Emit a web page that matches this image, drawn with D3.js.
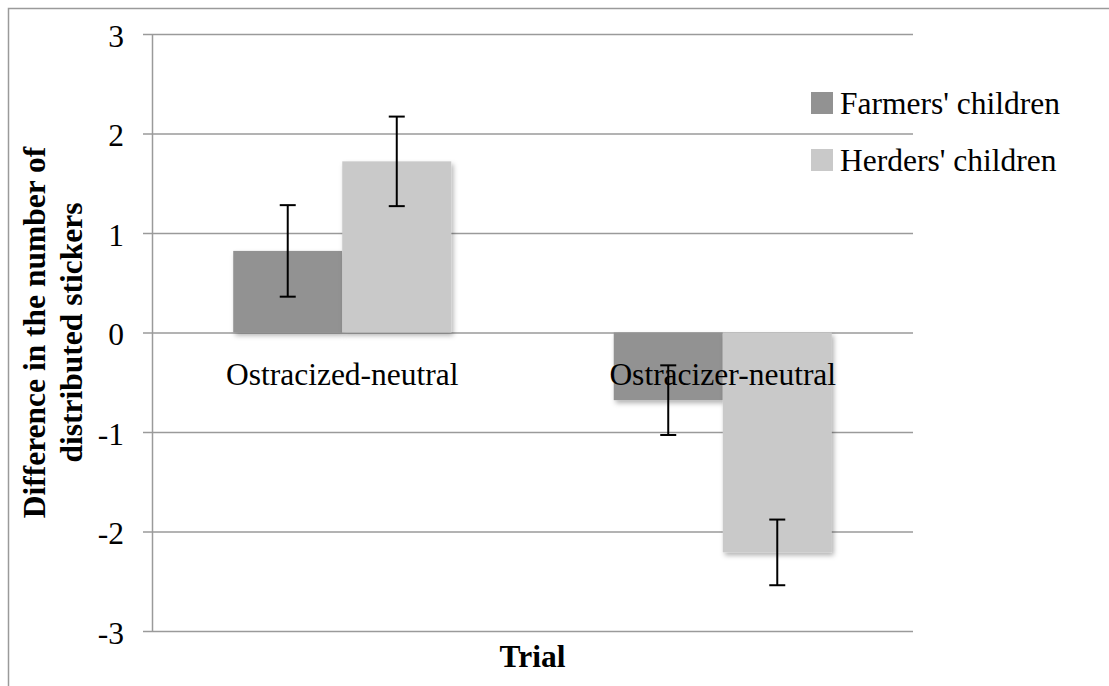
<!DOCTYPE html>
<html>
<head>
<meta charset="utf-8">
<script src="https://cdn.jsdelivr.net/npm/d3@7"></script>
<style>
    body { margin: 0; background: #fff; }
    svg text { font-family: "Liberation Serif", "Times New Roman", Times, "DejaVu Serif", serif; fill: #000; }
</style>
</head>
<body>
<svg id="bar-chart" width="1109" height="686"></svg>
<script>
// values
const categories = ["Ostracized-neutral", "Ostracizer-neutral"];
const seriesNames = ["Farmers' children", "Herders' children"];
const farmers = [0.82, -0.68];
const herders = [1.72, -2.21];
const farmersErr = [0.46, 0.35];
const herdersErr = [0.45, 0.33];
const yTicks = [-3, -2, -1, 0, 1, 2, 3];

const FONT = '"Liberation Serif", "Times New Roman", Times, "DejaVu Serif", serif';

class GroupedBarChart {

    constructor() {
        this.margin = { top: 34, right: 196, bottom: 55, left: 152 };
        this.width = 1109 - this.margin.left - this.margin.right;
        this.height = 686 - this.margin.top - this.margin.bottom;
        this.colors = ['#929292', '#c9c9c9'];
        this.renderVis();
    }

    renderVis() {
        let vis = this;
        let svg = d3.select('#bar-chart');

        // outer frame of the chart area
        svg.append('path')
            .attr('d', 'M8.5,686 V8.5 H1109')
            .attr('fill', 'none')
            .attr('stroke', '#9a9a9a')
            .attr('stroke-width', 1.5);

        let defs = svg.append('defs');
        defs.append('filter').attr('id', 'shadow')
            .attr('x', '-10%').attr('y', '-10%').attr('width', '130%').attr('height', '130%')
            .append('feDropShadow')
            .attr('dx', 2).attr('dy', 3).attr('stdDeviation', 2.5)
            .attr('flood-color', '#000').attr('flood-opacity', 0.3);

        let g = svg.append('g')
            .attr('transform', `translate(${vis.margin.left},${vis.margin.top})`);

        let y = d3.scaleLinear().domain([-3, 3]).range([vis.height, 0]);
        let x0 = d3.scaleBand().domain(categories).range([0, vis.width]).padding(0);
        let x1 = d3.scaleBand().domain(seriesNames).range([0, x0.bandwidth()])
            .paddingInner(0).paddingOuter(0.745);

        // gridlines
        g.append('g')
            .call(d3.axisLeft(y).tickValues(yTicks).tickSize(-vis.width).tickSizeOuter(0).tickFormat(''))
            .call(a => a.select('.domain').remove())
            .call(a => a.selectAll('line').attr('stroke', '#9a9a9a').attr('stroke-width', 1.5));
        // y axis with outside ticks
        let yAxis = g.append('g')
            .attr('font-family', FONT)
            .call(d3.axisLeft(y).tickValues(yTicks).tickSize(9).tickSizeOuter(0).tickPadding(19));
        yAxis.select('.domain').attr('stroke', '#9a9a9a').attr('stroke-width', 1.5);
        yAxis.selectAll('line').attr('stroke', '#9a9a9a').attr('stroke-width', 1.5);
        yAxis.selectAll('text')
            .attr('font-size', 31.5)
            .attr('font-family', FONT)
            .attr('dy', 12)
            .text(d => d < 0 ? '-' + Math.abs(d) : d);

        let rows = categories.map((c, i) => ({
            cat: c,
            values: [
                { name: seriesNames[0], v: farmers[i], e: farmersErr[i] },
                { name: seriesNames[1], v: herders[i], e: herdersErr[i] }
            ]
        }));
        let color = d3.scaleOrdinal().domain(seriesNames).range(vis.colors);

        let groups = g.selectAll('.grp').data(rows).join('g')
            .attr('class', 'grp')
            .attr('transform', d => `translate(${x0(d.cat)},0)`);

        groups.selectAll('rect').data(d => d.values).join('rect')
            .attr('x', d => x1(d.name))
            .attr('width', x1.bandwidth())
            .attr('y', d => y(Math.max(0, d.v)))
            .attr('height', d => Math.abs(y(d.v) - y(0)))
            .attr('fill', d => color(d.name))
            .attr('filter', 'url(#shadow)');

        // error bars
        let err = groups.selectAll('.err').data(d => d.values).join('g').attr('class', 'err')
            .attr('stroke', '#000').attr('stroke-width', 2);
        let cx = d => x1(d.name) + x1.bandwidth() / 2;
        err.append('line')
            .attr('x1', cx).attr('x2', cx)
            .attr('y1', d => y(d.v + d.e)).attr('y2', d => y(d.v - d.e));
        err.append('line')
            .attr('x1', d => cx(d) - 8).attr('x2', d => cx(d) + 8)
            .attr('y1', d => y(d.v + d.e)).attr('y2', d => y(d.v + d.e));
        err.append('line')
            .attr('x1', d => cx(d) - 8).attr('x2', d => cx(d) + 8)
            .attr('y1', d => y(d.v - d.e)).attr('y2', d => y(d.v - d.e));

        // category labels sit just under the zero line
        g.selectAll('.cat').data(categories).join('text')
            .attr('class', 'cat')
            .attr('x', d => x0(d) + x0.bandwidth() / 2)
            .attr('y', y(0) + 52)
            .attr('text-anchor', 'middle')
            .attr('font-family', FONT)
            .attr('font-size', 31.5)
            .text(d => d);

        // axis titles
        svg.append('text')
            .attr('x', vis.margin.left + vis.width / 2)
            .attr('y', 667)
            .attr('text-anchor', 'middle')
            .attr('font-family', FONT)
            .attr('font-size', 31.5)
            .attr('font-weight', 'bold')
            .text('Trial');
        let yt = svg.append('text')
            .attr('transform', `translate(0,${vis.margin.top + vis.height / 2}) rotate(-90)`)
            .attr('text-anchor', 'middle')
            .attr('font-family', FONT)
            .attr('font-size', 31.5)
            .attr('font-weight', 'bold');
        yt.append('tspan').attr('x', 0).attr('y', 45).text('Difference in the number of');
        yt.append('tspan').attr('x', 0).attr('y', 82).text('distributed stickers');

        // legend
        let legend = svg.append('g').selectAll('g').data(seriesNames).join('g')
            .attr('transform', (d, i) => `translate(840,${114 + i * 57})`);
        legend.append('rect')
            .attr('x', -29).attr('y', -22)
            .attr('width', 22).attr('height', 22)
            .attr('fill', d => color(d));
        legend.append('text')
            .attr('font-family', FONT)
            .attr('font-size', 31.5)
            .text(d => d);
    }
}

new GroupedBarChart();
</script>
</body>
</html>
